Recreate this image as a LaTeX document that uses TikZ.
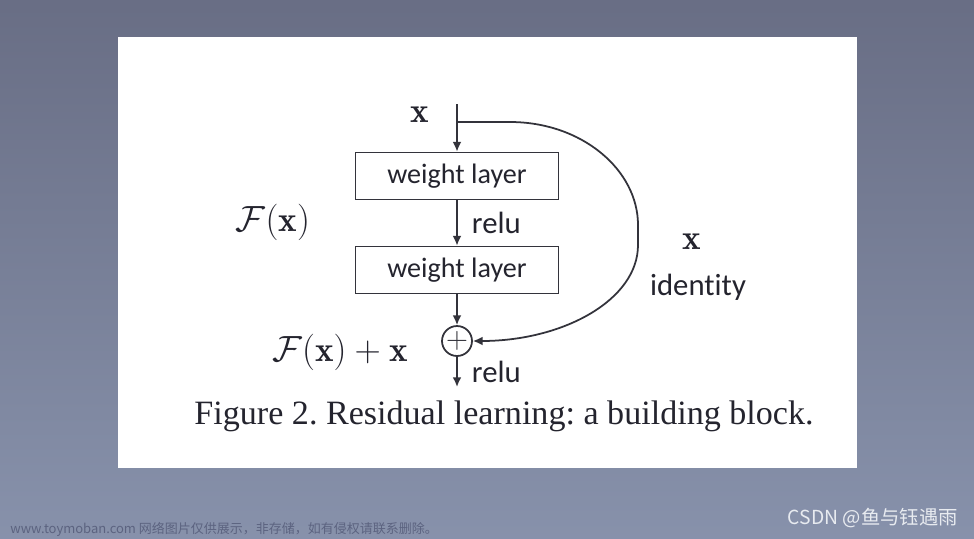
\documentclass[tikz,border=0pt]{standalone}
\usepackage{amsmath}
\usepackage{amssymb}
\usepackage{fontspec}
\setsansfont{Carlito}[Ligatures={NoCommon}]
\newfontfamily\captionfont{Liberation Serif}
\newfontfamily\cjkfont{Noto Sans CJK SC}
\usepackage{tikz}
\usetikzlibrary{arrows, arrows.meta, positioning}
\usepackage{color}
\definecolor{slidetop}{rgb}{0.41, 0.43, 0.52}
\definecolor{slidebottom}{rgb}{0.53, 0.57, 0.67}
\definecolor{inkgray}{rgb}{0.2, 0.2, 0.23}
\definecolor{textdark}{rgb}{0.14, 0.14, 0.18}
\definecolor{markgray}{rgb}{0.36, 0.39, 0.5}
\definecolor{marklight}{rgb}{0.91, 0.92, 0.94}
\frenchspacing

\tikzset{
	layerbox/.style={draw=inkgray, line width=1pt, minimum width=4.06cm, minimum height=0.94cm, inner sep=0pt, font=\sffamily\fontsize{16}{18}\selectfont, text=textdark},
	sumnode/.style={draw=inkgray, line width=1pt, circle, minimum size=0.6cm, inner sep=0pt, font=\fontsize{17}{17}\selectfont, text=inkgray},
	sanslabel/.style={font=\sffamily\fontsize{17.5}{20}\selectfont, text=textdark, inner sep=0pt},
	mathlabel/.style={font=\fontsize{20}{22}\selectfont, text=textdark, inner sep=0pt},
	flow/.style={-{Latex[length=5.5pt, width=5pt]}, draw=inkgray, line width=1pt}
}

\begin{document}
\begin{tikzpicture}[x=0.02cm, y=-0.02cm]
			\shade [top color=slidetop, bottom color=slidebottom] (0,0) rectangle (974,538);
			\useasboundingbox (0,0) rectangle (974,538);
			\fill [white] (118,37) rectangle (857,468);
			
			\node [layerbox] (wl1) at (457,176) {weight layer};
			\node [layerbox] (wl2) at (457,270) {weight layer};
			\node [sumnode] (add) at (457,341) {$+$};
			\coordinate (xin) at (457,104);
			\coordinate (split) at (457,122);
			\coordinate (xout) at (457,387);
			
			\draw [flow] (xin) -- (wl1);
			\draw [flow] (wl1) -- node [sanslabel, right, xshift=8] {relu} (wl2);
			\draw [flow] (wl2) -- (add);
			\draw [flow] (add) -- node [sanslabel, right, xshift=8] {relu} (xout);
			\draw [flow] (split) -- (510,122) .. controls (582,122) and (638,170) .. (638,225)
				-- (638,245) .. controls (638,300) and (563,341) .. (add.east);
			
			\node [mathlabel] (xtop) at (420,115) {$\mathbf{x}$};
			\node [mathlabel] (fx) at (273,222) {$\mathcal{F}(\mathbf{x})$};
			\node [mathlabel] (fxx) at (340,352) {$\mathcal{F}(\mathbf{x})+\mathbf{x}$};
			\node [mathlabel] (idx) at (692,242) {$\mathbf{x}$};
			\node [sanslabel] (identity) at (698,287) {identity};
			
			\node [text=textdark, font=\captionfont\fontsize{19.4}{21}\selectfont] (caption) at (504,416) {Figure 2. Residual learning: a building block.};
			
			% watermarks
			\node [anchor=west, inner sep=0pt, text=markgray, font=\cjkfont\fontsize{7.4}{9}\selectfont] (wmleft) at (10,529) {www.toymoban.com 网络图片仅供展示，非存储，如有侵权请联系删除。};
			\node [anchor=east, inner sep=0pt, text=marklight, font=\cjkfont\fontsize{11}{13}\selectfont] (wmright) at (958,518) {CSDN @鱼与钰遇雨};
		\end{tikzpicture}
\end{document}
